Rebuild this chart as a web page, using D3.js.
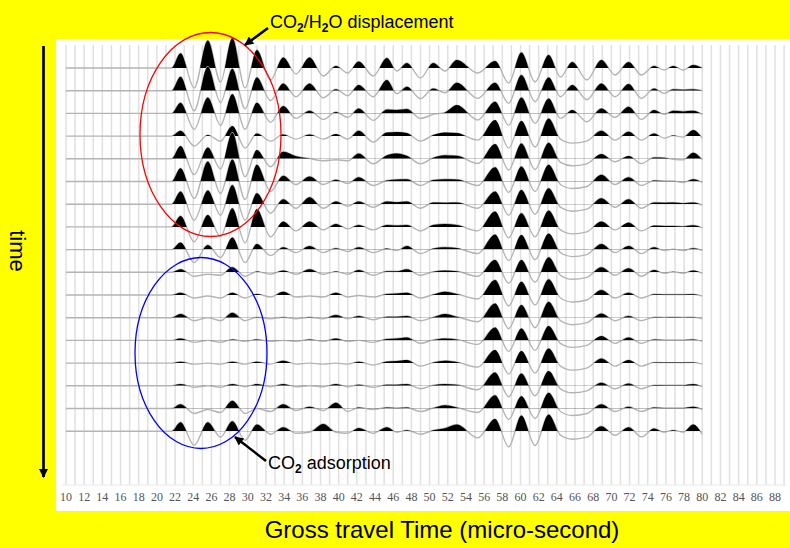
<!DOCTYPE html>
<html>
<head>
<meta charset="utf-8">
<script src="https://cdn.jsdelivr.net/npm/d3@7"></script>
<style>
  body { margin: 0; background: #ffff00; }
  svg { display: block; }
</style>
</head>
<body>
<svg id="chart" width="790" height="548"></svg>
<script>
// x axis: gross travel time (micro-second)
const tickLabels = d3.range(10, 89, 2);
const gridTimes = d3.range(10, 90, 1);
const onsetTime = 21.6;
const endTime = 80;

// times of the wiggle extrema shared by all traces
const extremaTimes = [22.6, 24.1, 25.6, 27.0, 28.3, 29.7, 31.0, 32.5, 33.9, 35.3,
  36.8, 38.3, 39.7, 41.0, 42.2, 43.8, 45.3, 46.4, 47.5, 49.0,
  50.4, 51.7, 53.0, 55.3, 57.2, 58.7, 60.1, 61.6, 63.1, 64.4,
  65.7, 67.3, 68.9, 70.4, 71.9, 73.3, 74.7, 75.8, 76.8, 77.9, 79.0];

// amplitude at each extremum, one array per trace (top = earliest)
const trace01 = [14.7, -20, 27.5, -14, 30, -20, 18, -12, 10.5, -6, 10.5, -8, 2, -5, 6.5, -8, 10, -3, 5, -10, 5, -3, 8, -5, 7, -15, 15.5, -14, 13, -9, 6, -12, 8, -7, 6, -7, 2, -2, 2, -2, 3];
const trace02 = [14, -20, 24, -12, 22, -18, 13.3, -10, 7.3, -6, 7.3, -7, 1.5, -5, 5.7, -6, 10.7, -3, 4, -8, 2.3, -2, 8, -7.7, 8, -12.7, 15.7, -11, 13.3, -6, 5.7, -9, 7.3, -6, 6.7, -7.7, 2.3, -2.7, 1.5, 1, 1.5];
const trace03 = [10.7, -16, 16, -12, 19.3, -16, 10.7, -9, 7.3, -5, 2.7, -6, 1.5, -4, 5, -7, 4, 3.5, 4.5, -5, -1, 1, 8.3, -6.7, 11.7, -11.7, 16, -10, 15, -5, 3.3, -8.3, 5, -4, 6.7, -6, 3.3, -1, 2.7, 2, 2.7];
const trace04 = [5.3, -10, 1, -5, 10, -12, 2.7, -5, 1.7, -3, 1.7, -3, 2, -3, 5.3, -6, 3.5, 4, 3, -5, 1, 3.5, 3, -4, 16, -12, 15, -11, 17.7, -3, -7, -5, 5.3, -4, 4.3, -4, 2.7, -2, 0.5, -1, 6];
const trace05 = [12.7, -16, 11.3, -10, 26, -18, 8.7, -8, 7, 2.5, 0.3, -2, -1, -2, 5.3, -5, 3.5, 5.3, 3, -5, 1, 3.5, 3, -4.7, 14.7, -11.3, 15.3, -10.7, 16, -3.5, -7, -5, 4.7, -3, 2.7, -4.7, 1.3, 1, -0.5, -1, 6];
const trace06 = [13.3, -17, 20, -12, 22, -18, 16.7, -10, 5.7, -3, 5, -3, 1.7, -2, 4.3, -4, 1, 2, 2.3, -4, 1.5, 2.3, 2, -4, 14.3, -11, 15, -10, 16.7, -3, -7, -5, 6.7, -3, 4.3, -4, 1, 0.5, 0.5, -1, 2.3];
const trace07 = [12.7, -16, 13.7, -11, 19.3, -16, 11, -9, 5, -4, 7, -4, 2.7, -2, 2.7, -3, 2.7, 2, 2.7, -4, 1.7, 1.5, 1.7, -4, 12.7, -11, 14.3, -10, 16, -3, -7, -5, 6, -3, 5, -4, 1.7, 1.5, 1.7, 1, 1.7];
const trace08 = [11, -15, 12, -10, 18.7, -16, 17.7, -10, 5.3, -4, 5.3, -3, 3, -2, 2, -3, 2, 1.5, 2, -4, 2, 3, 2, -4, 15.3, -11, 13.7, -10, 16.3, -3, -7, -5, 5.3, -3, 4.3, -4, 1.3, 1, 1, 0.5, 1.7];
const trace09 = [7, -13, 4.7, -8, 12, -13, 5.7, -6, 2.3, -3, 3.7, -3, 1.3, -2, 2.3, -3, 1, -1, 3.7, -4, 1, 2.3, 1.5, -4, 15, -11, 14.5, -10, 16, -3, -7, -5, 5.7, -3, 3.7, -4, 2.3, -1, 0.5, -1, 1.3];
const trace10 = [3, -4, -2, -3, 5, -4, 0.7, -2, 1.7, -2, 3, -2, 0.7, -2, 2.3, -3, 1, 1, 3, -3, 0.5, 1.7, 1, -4, 12.3, -11, 12.3, -10, 15, -3, -7, -5, 5, -3, 4, -4, 2.3, -1, 0.5, -1, 1.7];
const trace11 = [2.3, -3, -1, -3, 2.3, -3, 1, -2, 3.3, -2, -1, -2, 2.3, -2, -0.5, -2, 1, 1.5, 2.3, -3, 0.5, 3.3, 1, -4, 15, -11, 13.3, -10, 15.7, -3, -7, -5, 5, -3, 2.3, -3, 0.7, 0.5, 0.5, 0.5, 0.7];
const trace12 = [3.7, -3, 0, -3, 5, -3, 0.5, -1, 0.5, -1, 0.5, -1, 2.7, -1, 1.7, -2, 1, 1, 1.7, -3, 0.5, 3.7, 1, -4, 14.3, -11, 12.7, -10, 16, -3, -7, -5, 4.3, -3, 1.7, -3, 0.5, 0.3, 0.5, 0.3, 0.5];
const trace13 = [2, -2, 0, -2, 1, -1, 1, -1, 0, -1, 1, -1, 2, -1, 0, -2, 1.5, 2, 3, -3, 0.5, 2, 1, -4, 13, -11, 12, -10, 14.3, -3, -7, -5, 4.3, -3, 3, -3, 1, 0.5, 0.5, 0.5, 1];
const trace14 = [1.3, -1, 0, -1, 1.3, -1, 1.3, -1, 2.3, -1, 0, -1, 0, -1, 1.3, -2, 1.5, 2, 3, -3, 0.5, 2.3, 1, -4, 13, -11, 12, -10, 14.7, -3, -7, -5, 4.7, -3, 3, -3, 0.7, 0.5, 0.5, 0.5, 0.7];
const trace15 = [1.7, -1.5, 0, -1.5, 1.7, -1, 1.7, -1, 1.7, -1, 0, -1, 1.7, -1, 1, -1.5, 1, 1, 1.7, -3, 0.5, 1.7, 1, -4, 13.3, -11, 12.3, -10, 14.7, -3, -7, -5, 3, -3, 2.3, -3, 0.7, 0.5, 0.5, 0.5, 1.7];
const trace16 = [4.3, -5, -1, -4, 7.7, -5, 0, -3, 4.3, -2, 1.7, -2, 5.7, -3, 1, -1, 1, 0.5, 1, -3, 0.5, 3.3, 1, -4, 13.3, -11, 12.3, -10, 15.7, -3, -7, -5, 4.3, -3, 1.7, -3, 1, 0.5, 0.5, 0.5, 1.7];
const trace17 = [9, -14, 9, -6, 10, -9, 6.7, -3, 4, -2, -1, 7.3, -1, -2, 3.3, -2, 4, -1, 1, -3, 1, 3, 6.7, -6.7, 12.3, -15.7, 15.7, -14.3, 16.7, -4, -8, -6, 5, -4, 4, -5.7, 2.7, -1, 1, -1, 6.7];
const endValues = [0, 0, -1, -2, -1, -1, -1, -1, -1, -1, -1, -1, -1, -1, -1, -1, -3.3];

const traces = [trace01, trace02, trace03, trace04, trace05, trace06, trace07, trace08, trace09,
  trace10, trace11, trace12, trace13, trace14, trace15, trace16, trace17];

const svg = d3.select("#chart");

const x = d3.scaleLinear().domain([10, 88]).range([66, 775]);
const y = d3.scaleLinear().domain([0, traces.length - 1]).range([68, 431.2]);
const amp = d3.scaleLinear().domain([-30, 30]).range([30, -30]);

// white panel
svg.append("rect")
  .attr("x", 56).attr("y", 39)
  .attr("width", 734).attr("height", 472)
  .attr("fill", "#ffffff");

// vertical grid
svg.append("g")
  .selectAll("line")
  .data(gridTimes)
  .join("line")
  .attr("x1", d => x(d)).attr("x2", d => x(d))
  .attr("y1", 45).attr("y2", 485)
  .attr("stroke", "#e0e0e0")
  .attr("stroke-width", 1.5);

svg.append("line")
  .attr("x1", 62).attr("x2", 786)
  .attr("y1", 485).attr("y2", 485)
  .attr("stroke", "#e8e8e8");

// tick labels
svg.append("g")
  .selectAll("text")
  .data(tickLabels)
  .join("text")
  .attr("x", d => x(d))
  .attr("y", 501)
  .attr("text-anchor", "middle")
  .attr("font-family", "'Liberation Serif', serif")
  .attr("font-size", 12)
  .attr("fill", "#555")
  .text(d => d);

// wiggle traces
const defs = svg.append("defs");
const lineGen = d3.line().curve(d3.curveMonotoneX);

traces.forEach((vals, i) => {
  const base = y(i);
  const pts = [[10, 0], [onsetTime, 0]]
    .concat(extremaTimes.map((t, k) => [t, vals[k]]))
    .concat([[endTime, endValues[i]]]);

  defs.append("clipPath").attr("id", "pos" + i)
    .append("rect")
    .attr("x", 56).attr("y", 0)
    .attr("width", 734).attr("height", base);

  const g = svg.append("g");
  g.append("path")
    .attr("d", lineGen(pts.map(p => [x(p[0]), base + amp(p[1])])))
    .attr("fill", "none")
    .attr("stroke", "#b4b4b4")
    .attr("stroke-width", 1.4);

  g.append("path")
    .attr("clip-path", "url(#pos" + i + ")")
    .attr("d", d3.area()
      .curve(d3.curveMonotoneX)
      .x(p => x(p[0]))
      .y0(base)
      .y1(p => base + amp(p[1]))(pts))
    .attr("fill", "#000");
});

// annotations
const marker = defs.append("marker")
  .attr("id", "head")
  .attr("viewBox", "0 0 10 10")
  .attr("refX", 9).attr("refY", 5)
  .attr("markerWidth", 11).attr("markerHeight", 9)
  .attr("markerUnits", "userSpaceOnUse")
  .attr("orient", "auto");
marker.append("path").attr("d", "M0,0L10,5L0,10z").attr("fill", "#000");

svg.append("ellipse")
  .attr("cx", 210.5).attr("cy", 134.5)
  .attr("rx", 70.5).attr("ry", 102)
  .attr("fill", "none").attr("stroke", "#ff0000").attr("stroke-width", 1.3);

svg.append("ellipse")
  .attr("cx", 201).attr("cy", 353)
  .attr("rx", 66).attr("ry", 95.5)
  .attr("fill", "none").attr("stroke", "#0000ff").attr("stroke-width", 1.3);

svg.append("line")
  .attr("x1", 268).attr("y1", 28).attr("x2", 245).attr("y2", 45)
  .attr("stroke", "#000").attr("stroke-width", 2.5)
  .attr("marker-end", "url(#head)");

svg.append("line")
  .attr("x1", 266).attr("y1", 461).attr("x2", 235).attr("y2", 437)
  .attr("stroke", "#000").attr("stroke-width", 2.5)
  .attr("marker-end", "url(#head)");

svg.append("line")
  .attr("x1", 43.5).attr("y1", 46).attr("x2", 43.5).attr("y2", 477)
  .attr("stroke", "#000").attr("stroke-width", 2.7)
  .attr("marker-end", "url(#head)");

const label1 = svg.append("text")
  .attr("x", 270).attr("y", 28)
  .attr("font-family", "Liberation Sans, Arial, sans-serif")
  .attr("font-size", 18).attr("fill", "#000");
label1.append("tspan").text("CO");
label1.append("tspan").attr("dy", 4).attr("font-size", 12).attr("font-weight", "bold").text("2");
label1.append("tspan").attr("dy", -4).text("/H");
label1.append("tspan").attr("dy", 4).attr("font-size", 12).attr("font-weight", "bold").text("2");
label1.append("tspan").attr("dy", -4).text("O displacement");

const label2 = svg.append("text")
  .attr("x", 268).attr("y", 469)
  .attr("font-family", "Liberation Sans, Arial, sans-serif")
  .attr("font-size", 18).attr("fill", "#000");
label2.append("tspan").text("CO");
label2.append("tspan").attr("dy", 4).attr("font-size", 12).attr("font-weight", "bold").text("2");
label2.append("tspan").attr("dy", -4).text(" adsorption");

svg.append("text")
  .attr("transform", "translate(10,251) rotate(90)")
  .attr("text-anchor", "middle")
  .attr("font-family", "Liberation Sans, Arial, sans-serif")
  .attr("font-size", 22)
  .text("time");

svg.append("text")
  .attr("x", 442).attr("y", 538)
  .attr("text-anchor", "middle")
  .attr("font-family", "Liberation Sans, Arial, sans-serif")
  .attr("font-size", 24)
  .text("Gross travel Time (micro-second)");
</script>
</body>
</html>
